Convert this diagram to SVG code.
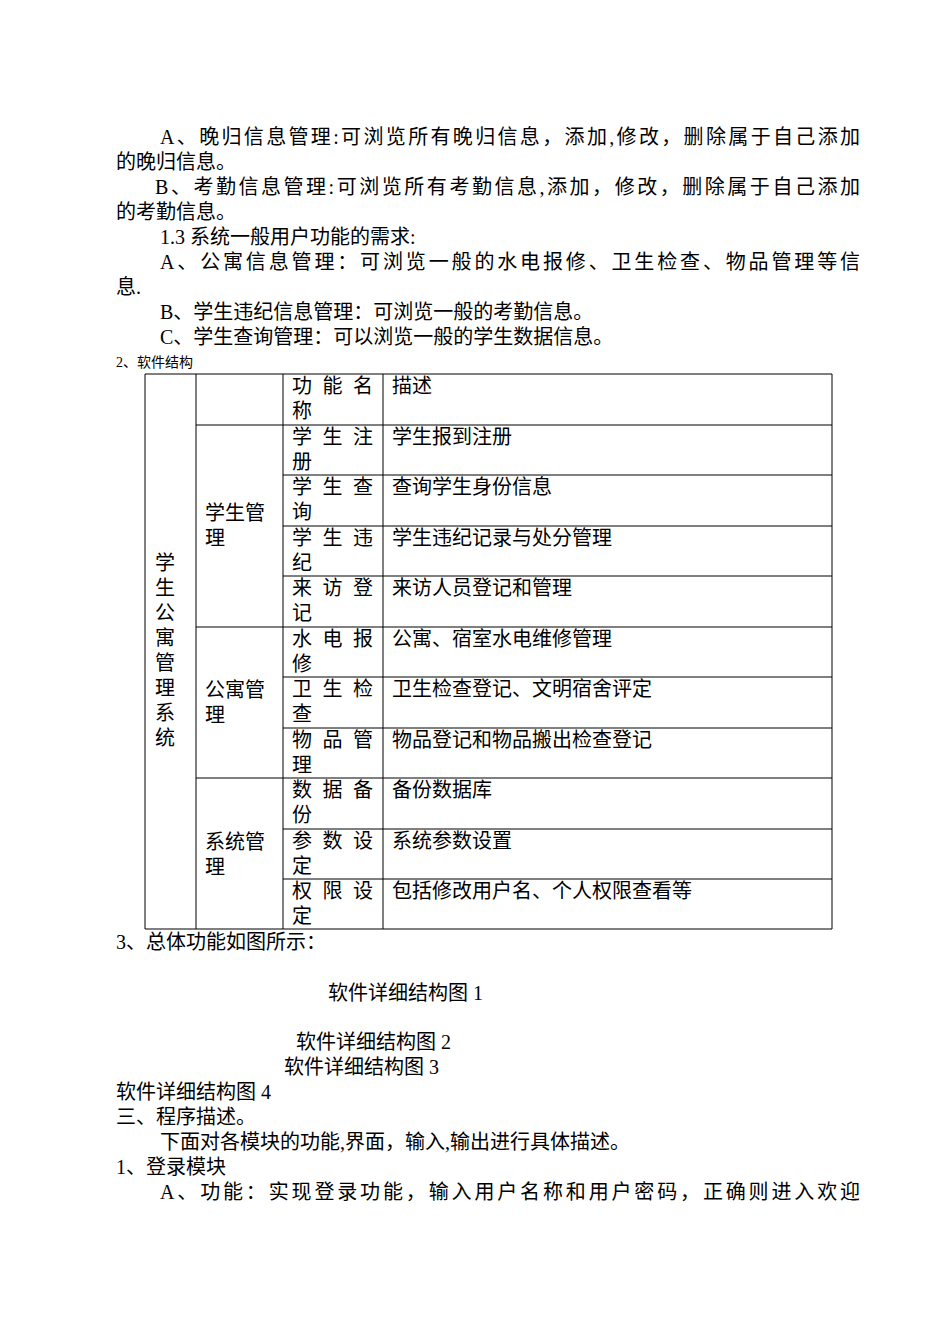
<svg xmlns="http://www.w3.org/2000/svg" width="950" height="1344" viewBox="0 0 950 1344">
<style>
text{font-family:"Liberation Serif","Noto Sans CJK SC",serif;font-size:20px;fill:#000}
.s{font-size:14px}
.g line{stroke:#000;stroke-width:1}
</style>
<rect width="950" height="1344" fill="#fff"/>
<g id="body">
<text x="160" y="144" textLength="700" lengthAdjust="spacing">A、晚归信息管理:可浏览所有晚归信息，添加,修改，删除属于自己添加</text>
<text x="116" y="169">的晚归信息。</text>
<text x="155" y="194" textLength="705" lengthAdjust="spacing">B、考勤信息管理:可浏览所有考勤信息,添加，修改，删除属于自己添加</text>
<text x="116" y="219">的考勤信息。</text>
<text x="160" y="244">1.3 系统一般用户功能的需求:</text>
<text x="160" y="269" textLength="700" lengthAdjust="spacing">A、公寓信息管理：可浏览一般的水电报修、卫生检查、物品管理等信</text>
<text x="116" y="294">息.</text>
<text x="160" y="319">B、学生违纪信息管理：可浏览一般的考勤信息。</text>
<text x="160" y="344">C、学生查询管理：可以浏览一般的学生数据信息。</text>
<text class="s" x="116" y="367">2、软件结构</text>
</g>
<g id="table" class="g">
<line x1="145" y1="374" x2="832" y2="374"/>
<line x1="145" y1="929" x2="832" y2="929"/>
<line x1="145" y1="374" x2="145" y2="929"/>
<line x1="196" y1="374" x2="196" y2="929"/>
<line x1="283" y1="374" x2="283" y2="929"/>
<line x1="383" y1="374" x2="383" y2="929"/>
<line x1="832" y1="374" x2="832" y2="929"/>
<line x1="196" y1="425" x2="832" y2="425"/>
<line x1="283" y1="475" x2="832" y2="475"/>
<line x1="283" y1="526" x2="832" y2="526"/>
<line x1="283" y1="576" x2="832" y2="576"/>
<line x1="196" y1="627" x2="832" y2="627"/>
<line x1="283" y1="677" x2="832" y2="677"/>
<line x1="283" y1="728" x2="832" y2="728"/>
<line x1="196" y1="778" x2="832" y2="778"/>
<line x1="283" y1="829" x2="832" y2="829"/>
<line x1="283" y1="879" x2="832" y2="879"/>
</g>
<g id="col1">
<text x="155" y="570">学</text><text x="155" y="595">生</text><text x="155" y="620">公</text><text x="155" y="645">寓</text>
<text x="155" y="670">管</text><text x="155" y="695">理</text><text x="155" y="720">系</text><text x="155" y="745">统</text>
</g>
<g id="col2">
<text x="205" y="520">学生管</text><text x="205" y="545">理</text>
<text x="205" y="697">公寓管</text><text x="205" y="722">理</text>
<text x="205" y="849">系统管</text><text x="205" y="874">理</text>
</g>
<g id="col3">
<text x="292" y="393" textLength="81" lengthAdjust="spacing">功能名</text><text x="292" y="418">称</text>
<text x="292" y="444" textLength="81" lengthAdjust="spacing">学生注</text><text x="292" y="469">册</text>
<text x="292" y="494" textLength="81" lengthAdjust="spacing">学生查</text><text x="292" y="519">询</text>
<text x="292" y="545" textLength="81" lengthAdjust="spacing">学生违</text><text x="292" y="570">纪</text>
<text x="292" y="595" textLength="81" lengthAdjust="spacing">来访登</text><text x="292" y="620">记</text>
<text x="292" y="646" textLength="81" lengthAdjust="spacing">水电报</text><text x="292" y="671">修</text>
<text x="292" y="696" textLength="81" lengthAdjust="spacing">卫生检</text><text x="292" y="721">查</text>
<text x="292" y="747" textLength="81" lengthAdjust="spacing">物品管</text><text x="292" y="772">理</text>
<text x="292" y="797" textLength="81" lengthAdjust="spacing">数据备</text><text x="292" y="822">份</text>
<text x="292" y="848" textLength="81" lengthAdjust="spacing">参数设</text><text x="292" y="873">定</text>
<text x="292" y="898" textLength="81" lengthAdjust="spacing">权限设</text><text x="292" y="923">定</text>
</g>
<g id="col4">
<text x="392" y="393">描述</text>
<text x="392" y="444">学生报到注册</text>
<text x="392" y="494">查询学生身份信息</text>
<text x="392" y="545">学生违纪记录与处分管理</text>
<text x="392" y="595">来访人员登记和管理</text>
<text x="392" y="646">公寓、宿室水电维修管理</text>
<text x="392" y="696">卫生检查登记、文明宿舍评定</text>
<text x="392" y="747">物品登记和物品搬出检查登记</text>
<text x="392" y="797">备份数据库</text>
<text x="392" y="848">系统参数设置</text>
<text x="392" y="898">包括修改用户名、个人权限查看等</text>
</g>
<g id="tail">
<text x="116" y="949">3、总体功能如图所示：</text>
<text x="328" y="1000">软件详细结构图 1</text>
<text x="296" y="1049">软件详细结构图 2</text>
<text x="284" y="1074">软件详细结构图 3</text>
<text x="116" y="1099">软件详细结构图 4</text>
<text x="116" y="1124">三、程序描述。</text>
<text x="160" y="1149">下面对各模块的功能,界面，输入,输出进行具体描述。</text>
<text x="116" y="1174">1、登录模块</text>
<text x="160" y="1199" textLength="700" lengthAdjust="spacing">A、功能：实现登录功能，输入用户名称和用户密码，正确则进入欢迎</text>
</g>
</svg>
